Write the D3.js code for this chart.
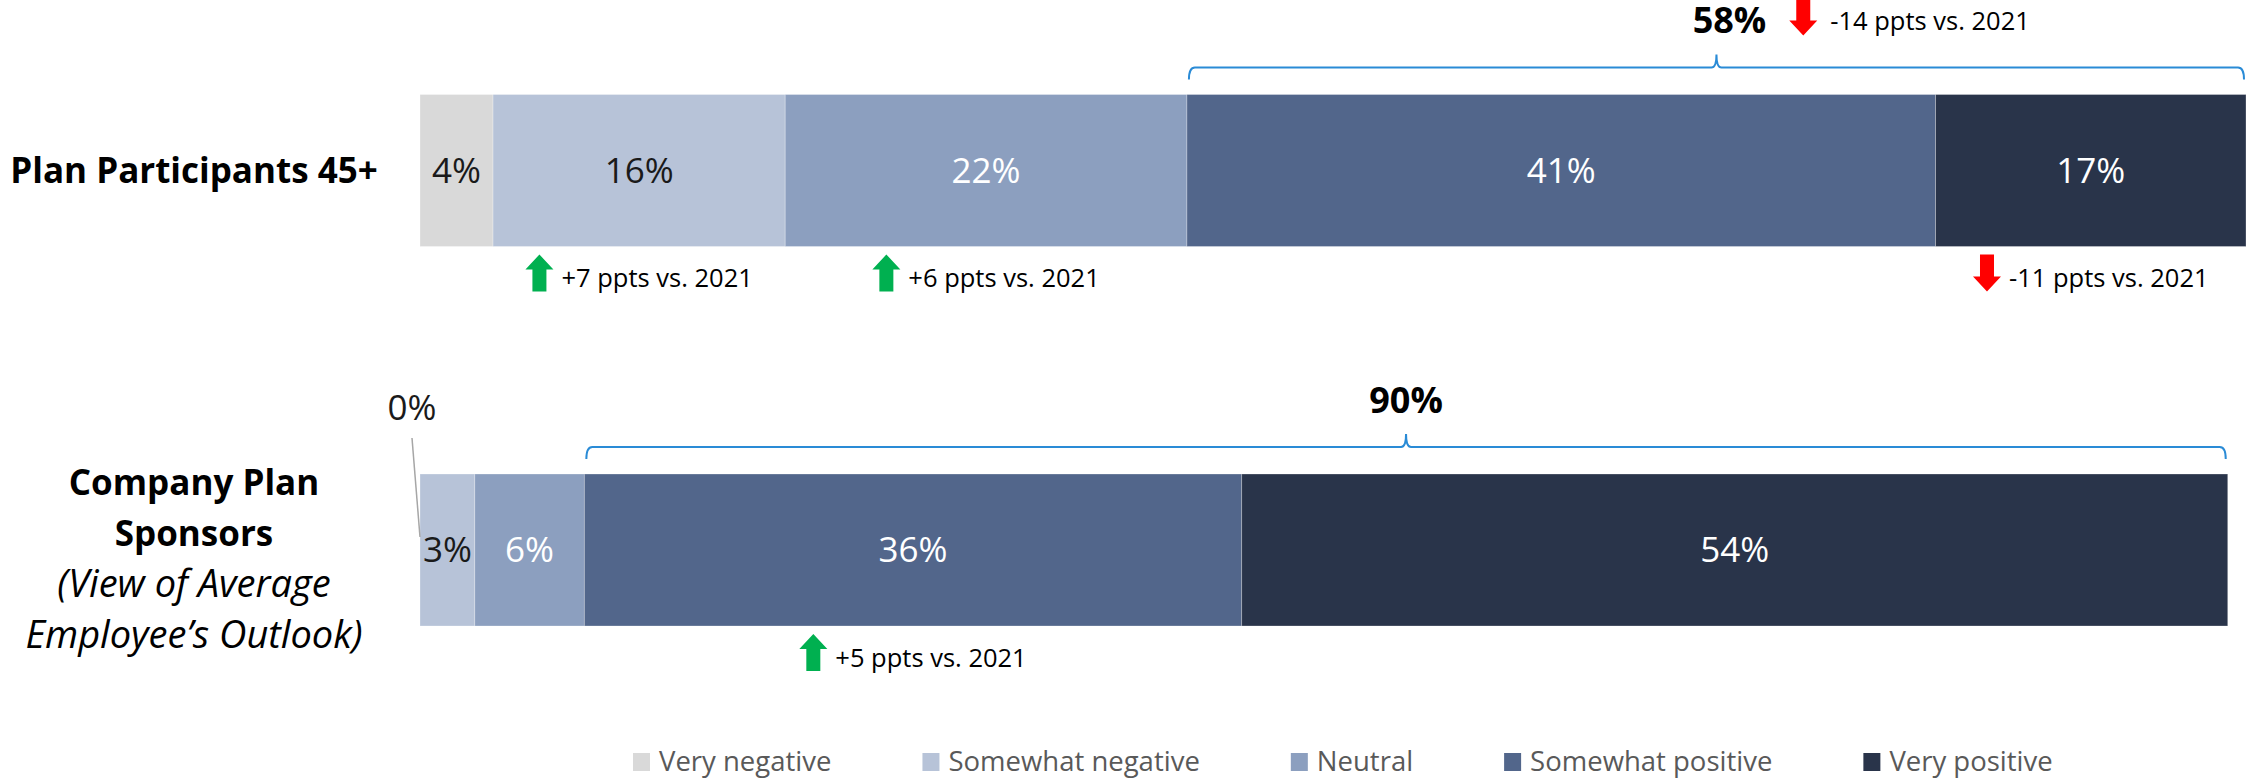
<!DOCTYPE html>
<html>
<head>
<meta charset="utf-8">
<script src="https://cdn.jsdelivr.net/npm/d3@7"></script>
<style>
    body { margin: 0; background: #fff; }
    text { font-family: 'Open Sans', sans-serif; }
</style>
</head>
<body>
<div id="chart"></div>
<script>
//Datos
const categories = ['Very negative', 'Somewhat negative', 'Neutral', 'Somewhat positive', 'Very positive'];
const rows = ['Plan Participants 45+', 'Company Plan Sponsors'];
const participants = [4, 16, 22, 41, 17];
const sponsors = [0, 3, 6, 36, 54];
const rowLines = [
    [{t: 'Plan Participants 45+', s: 'bold'}],
    [{t: 'Company Plan', s: 'bold'}, {t: 'Sponsors', s: 'bold'}, {t: '(View of Average', s: 'italic'}, {t: 'Employee’s Outlook)', s: 'italic'}]
];
const positiveTotals = [58, 90];
const totalChanges = [{text: '-14 ppts vs. 2021', dir: 'down'}, null];
const changes = [
    {row: 0, cat: 'Somewhat negative', text: '+7 ppts vs. 2021', dir: 'up'},
    {row: 0, cat: 'Neutral', text: '+6 ppts vs. 2021', dir: 'up'},
    {row: 0, cat: 'Very positive', text: '-11 ppts vs. 2021', dir: 'down'},
    {row: 1, cat: 'Somewhat positive', text: '+5 ppts vs. 2021', dir: 'up'}
];

//Colores
const colors = ['#d9d9d9', '#b7c3d8', '#8c9fbf', '#52668b', '#29344a'];
const darkText = ['Very negative', 'Somewhat negative'];

let width = 2246, height = 779;
const values = [participants, sponsors];
const barH = 152;

const svg = d3.select('#chart').append('svg')
    .attr('width', width)
    .attr('height', height);

let x = d3.scaleLinear().domain([0, 100]).range([420, 2246]);
let y = d3.scalePoint().domain(rows).range([170.5, 550]);
let color = d3.scaleOrdinal().domain(categories).range(colors);

//Stack por filas
let segs = [];
values.forEach(function(vals, r) {
    let acc = 0;
    vals.forEach(function(v, i) {
        segs.push({row: r, cat: categories[i], v: v, x0: acc, x1: acc + v});
        acc += v;
    });
});

function segOf(r, cat) {
    return segs.find(d => d.row === r && d.cat === cat);
}

//Etiquetas de fila
rowLines.forEach(function(lines, r) {
    let cy = y(rows[r]);
    let start = lines.length === 1 ? cy + 12 : cy - 55;
    svg.append('g').selectAll('text')
        .data(lines)
        .enter()
        .append('text')
        .attr('x', 194)
        .attr('y', (d, i) => start + i * 51)
        .attr('text-anchor', 'middle')
        .attr('font-size', d => d.s === 'italic' ? 38 : 35)
        .attr('font-weight', d => d.s === 'bold' ? 700 : 400)
        .attr('font-style', d => d.s === 'italic' ? 'italic' : 'normal')
        .attr('fill', '#000')
        .text(d => d.t);
});

//Barras
svg.append('g').selectAll('rect')
    .data(segs.filter(d => d.v > 0))
    .enter()
    .append('rect')
    .attr('x', d => x(d.x0))
    .attr('y', d => y(rows[d.row]) - barH / 2)
    .attr('width', d => x(d.x1) - x(d.x0))
    .attr('height', barH)
    .attr('fill', d => color(d.cat))
    .attr('stroke', '#ffffff')
    .attr('stroke-opacity', 0.35)
    .attr('stroke-width', 0.8);

svg.append('g').selectAll('text')
    .data(segs.filter(d => d.v > 0))
    .enter()
    .append('text')
    .attr('x', d => (x(d.x0) + x(d.x1)) / 2)
    .attr('y', d => y(rows[d.row]))
    .attr('dy', '0.35em')
    .attr('text-anchor', 'middle')
    .attr('font-size', 35)
    .attr('fill', d => darkText.includes(d.cat) ? '#1a1a1a' : '#fff')
    .text(d => d.v + '%');

//Segmentos con 0%: etiqueta fuera con linea guia
segs.filter(d => d.v === 0).forEach(function(d) {
    let top = y(rows[d.row]) - barH / 2;
    let xx = x(d.x0);
    svg.append('line')
        .attr('x1', xx - 8).attr('y1', top - 36)
        .attr('x2', xx).attr('y2', top + 63)
        .attr('stroke', '#a6a6a6')
        .attr('stroke-width', 1.5);
    svg.append('text')
        .attr('x', xx - 8)
        .attr('y', top - 66)
        .attr('dy', '0.35em')
        .attr('text-anchor', 'middle')
        .attr('font-size', 35)
        .attr('fill', '#1a1a1a')
        .text(d.v + '%');
});

//Flechas
function arrowPath(cx, top, h, dir) {
    const hw = 14, sw = 7, hh = 15;
    if (dir === 'up') {
        return 'M' + cx + ',' + top + 'L' + (cx + hw) + ',' + (top + hh) + 'L' + (cx + sw) + ',' + (top + hh) +
            'L' + (cx + sw) + ',' + (top + h) + 'L' + (cx - sw) + ',' + (top + h) + 'L' + (cx - sw) + ',' + (top + hh) +
            'L' + (cx - hw) + ',' + (top + hh) + 'Z';
    }
    let b = top + h;
    return 'M' + cx + ',' + b + 'L' + (cx + hw) + ',' + (b - hh) + 'L' + (cx + sw) + ',' + (b - hh) +
        'L' + (cx + sw) + ',' + top + 'L' + (cx - sw) + ',' + top + 'L' + (cx - sw) + ',' + (b - hh) +
        'L' + (cx - hw) + ',' + (b - hh) + 'Z';
}

function arrowColor(dir) {
    return dir === 'up' ? '#00b050' : '#ff0000';
}

//Cambios vs. 2021 bajo las barras
changes.forEach(function(c) {
    let s = segOf(c.row, c.cat);
    let bottom = y(rows[c.row]) + barH / 2;
    let g = svg.append('g');
    let t = g.append('text')
        .attr('y', bottom + 32)
        .attr('dy', '0.35em')
        .attr('font-size', 25.5)
        .attr('fill', '#000')
        .text(c.text);
    let tw = t.node().getComputedTextLength();
    let start = (x(s.x0) + x(s.x1)) / 2 - (36 + tw) / 2;
    t.attr('x', start + 36);
    g.append('path')
        .attr('d', arrowPath(start + 14, bottom + 8, 37, c.dir))
        .attr('fill', arrowColor(c.dir));
});

//Llaves de totales positivos
function bracePath(x0, x1, yl) {
    let xm = (x0 + x1) / 2;
    return 'M' + x0 + ',' + (yl + 12) +
        'Q' + x0 + ',' + yl + ' ' + (x0 + 6) + ',' + yl +
        'L' + (xm - 5) + ',' + yl +
        'Q' + xm + ',' + yl + ' ' + xm + ',' + (yl - 13) +
        'Q' + xm + ',' + yl + ' ' + (xm + 5) + ',' + yl +
        'L' + (x1 - 6) + ',' + yl +
        'Q' + x1 + ',' + yl + ' ' + x1 + ',' + (yl + 12);
}

positiveTotals.forEach(function(tot, r) {
    let s = segOf(r, 'Somewhat positive');
    let x0 = x(s.x0) + 2, x1 = x(s.x0 + tot) - 2;
    let yl = y(rows[r]) - barH / 2 - 27;
    let xm = (x0 + x1) / 2;
    let ch = totalChanges[r];

    svg.append('path')
        .attr('d', bracePath(x0, x1, yl))
        .attr('fill', 'none')
        .attr('stroke', '#2a8bd6')
        .attr('stroke-width', 2);

    //con flecha al lado, la cifra queda algo desplazada a la derecha
    let lx = ch ? xm + 13 : xm;
    let lbl = svg.append('text')
        .attr('x', lx)
        .attr('y', yl - 47)
        .attr('dy', '0.35em')
        .attr('text-anchor', 'middle')
        .attr('font-size', 36)
        .attr('font-weight', 700)
        .attr('fill', '#000')
        .text(tot + '%');

    if (ch) {
        let lw = lbl.node().getComputedTextLength();
        let ax = lx + lw / 2 + 37;
        svg.append('path')
            .attr('d', arrowPath(ax, yl - 68, 36, ch.dir))
            .attr('fill', arrowColor(ch.dir));
        svg.append('text')
            .attr('x', ax + 27)
            .attr('y', yl - 46)
            .attr('dy', '0.35em')
            .attr('font-size', 25.5)
            .attr('fill', '#000')
            .text(ch.text);
    }
});

//Leyenda
let legend = svg.append('g');
let lx = 633;
categories.forEach(function(c) {
    legend.append('rect')
        .attr('x', lx)
        .attr('y', 753)
        .attr('width', 17)
        .attr('height', 18)
        .attr('fill', color(c));
    let t = legend.append('text')
        .attr('x', lx + 26)
        .attr('y', 761)
        .attr('dy', '0.35em')
        .attr('font-size', 27.5)
        .attr('fill', '#595959')
        .text(c);
    lx += 26 + t.node().getComputedTextLength() + 91;
});
</script>
</body>
</html>
